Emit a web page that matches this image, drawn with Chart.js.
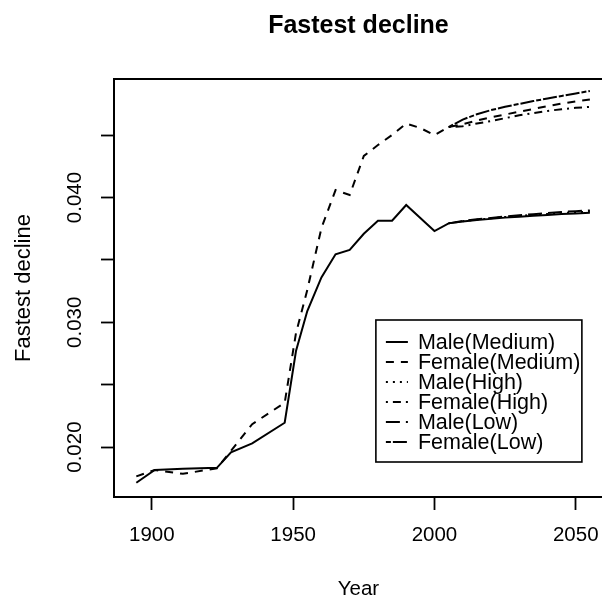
<!DOCTYPE html>
<html>
<head>
<meta charset="utf-8">
<script src="https://cdn.jsdelivr.net/npm/chart.js@4/dist/chart.umd.min.js"></script>
<style>
  html, body { margin: 0; padding: 0; background: #fff; overflow: hidden; }
  #wrap { width: 612px; height: 598px; }
</style>
</head>
<body>
<div id="wrap"><canvas id="c" width="612" height="598"></canvas></div>
<script>
// Observed life-table years and projection years
const histYears = [1894.5, 1901, 1911, 1923, 1928, 1935.5, 1947, 1951, 1955, 1960, 1965, 1970, 1975, 1980, 1985, 1990, 1995, 2000];
const projYears = [2005, 2010, 2015, 2020, 2025, 2030, 2035, 2040, 2045, 2050, 2055];

// Observed values
const maleHist   = [0.01714, 0.01816, 0.01826, 0.01834, 0.01958, 0.02030, 0.02195, 0.02770, 0.03090, 0.03360, 0.03545, 0.03580, 0.03710, 0.03814, 0.03814, 0.03940, 0.03836, 0.03731];
const femaleHist = [0.01765, 0.01816, 0.01786, 0.01830, 0.01970, 0.02184, 0.02355, 0.02914, 0.03260, 0.03755, 0.04060, 0.04020, 0.04333, 0.04421, 0.04501, 0.04593, 0.04557, 0.04501];

// Projected values by variant
const maleMediumProj   = [0.03793, 0.03808, 0.03820, 0.03829, 0.03839, 0.03847, 0.03854, 0.03861, 0.03868, 0.03873, 0.03878];
const maleHighProj     = [0.03793, 0.03810, 0.03823, 0.03833, 0.03844, 0.03853, 0.03861, 0.03868, 0.03876, 0.03882, 0.03888];
const maleLowProj      = [0.03793, 0.03812, 0.03826, 0.03837, 0.03849, 0.03858, 0.03867, 0.03876, 0.03884, 0.03891, 0.03897];
const femaleMediumProj = [0.04565, 0.04588, 0.04617, 0.04643, 0.04665, 0.04688, 0.04710, 0.04733, 0.04753, 0.04771, 0.04786];
const femaleHighProj   = [0.04565, 0.04571, 0.04593, 0.04613, 0.04636, 0.04659, 0.04677, 0.04694, 0.04708, 0.04719, 0.04727];
const femaleLowProj    = [0.04565, 0.04625, 0.04667, 0.04701, 0.04727, 0.04750, 0.04773, 0.04794, 0.04814, 0.04834, 0.04854];

// Axis ticks
const xTickValues = [1900, 1950, 2000, 2050];
const yTickValues = [0.020, 0.025, 0.030, 0.035, 0.040, 0.045];
const yTickLabels = ['0.020', '', '0.030', '', '0.040', ''];

const seriesLabels = ['Male(Medium)', 'Female(Medium)', 'Male(High)', 'Female(High)', 'Male(Low)', 'Female(Low)'];

const FONT = '"Liberation Sans", Arial, Helvetica, sans-serif';

function pairs(xs, ys) { return xs.map((x, i) => ({ x: x, y: ys[i] })); }

const dashStyles = [
  [],              // solid
  [8, 7],          // dashed
  [2, 5],          // dotted
  [2, 5, 8, 5],    // dot-dash
  [14, 6],         // long dash
  [5, 2, 14, 2]    // two-dash
];

const seriesData = [
  pairs(histYears.concat(projYears), maleHist.concat(maleMediumProj)),
  pairs(histYears.concat(projYears), femaleHist.concat(femaleMediumProj)),
  pairs(projYears, maleHighProj),
  pairs(projYears, femaleHighProj),
  pairs(projYears, maleLowProj),
  pairs(projYears, femaleLowProj)
];

const datasets = seriesData.map((d, i) => ({
  label: seriesLabels[i],
  data: d,
  borderColor: '#000',
  borderWidth: 2,
  borderDash: dashStyles[i],
  pointRadius: 0,
  tension: 0,
  fill: false
}));

// Main title, top edge of the frame and legend box
const decorations = {
  id: 'decorations',
  afterDraw(chart) {
    const ctx = chart.ctx;
    const a = chart.chartArea;
    ctx.save();
    // top edge of the frame runs off the right side
    ctx.strokeStyle = '#000';
    ctx.lineWidth = 2;
    ctx.setLineDash([]);
    ctx.beginPath();
    ctx.moveTo(a.left - 1, a.top);
    ctx.lineTo(chart.width, a.top);
    ctx.stroke();
    ctx.beginPath();
    ctx.moveTo(a.right, a.bottom);
    ctx.lineTo(chart.width, a.bottom);
    ctx.stroke();

    // main title
    ctx.fillStyle = '#000';
    ctx.font = 'bold 25px ' + FONT;
    ctx.textAlign = 'center';
    ctx.textBaseline = 'alphabetic';
    ctx.fillText('Fastest decline', (a.left + a.right) / 2, 33);

    // legend
    const boxRight = a.right - 21, boxBottom = a.bottom - 35;
    const boxW = 206, boxH = 142;
    const bx = boxRight - boxW, by = boxBottom - boxH;
    ctx.fillStyle = '#fff';
    ctx.fillRect(bx, by, boxW, boxH);
    ctx.strokeStyle = '#000';
    ctx.lineWidth = 1.6;
    ctx.strokeRect(bx, by, boxW, boxH);
    ctx.font = '21.5px ' + FONT;
    ctx.textAlign = 'left';
    ctx.textBaseline = 'middle';
    chart.data.datasets.forEach((ds, i) => {
      const y = by + 22 + i * 20;
      ctx.beginPath();
      ctx.setLineDash(ds.borderDash);
      ctx.lineWidth = 2;
      ctx.moveTo(bx + 10, y);
      ctx.lineTo(bx + 32, y);
      ctx.stroke();
      ctx.setLineDash([]);
      ctx.fillStyle = '#000';
      ctx.fillText(ds.label, bx + 42, y + 1);
    });
    ctx.restore();
  }
};

new Chart(document.getElementById('c'), {
  type: 'line',
  data: { datasets: datasets },
  options: {
    responsive: false,
    animation: false,
    events: [],
    layout: { padding: { left: 0, top: 79, right: 8, bottom: 0 } },
    plugins: {
      legend: { display: false },
      title: { display: false },
      tooltip: { enabled: false }
    },
    scales: {
      x: {
        type: 'linear',
        min: 1886.6,
        max: 2059.6,
        afterBuildTicks: s => { s.ticks = xTickValues.map(v => ({ value: v })); },
        afterFit: s => { s.height = 101; },
        grid: { display: true, drawOnChartArea: false, drawTicks: true, tickLength: 13, tickWidth: 1.8, tickColor: '#000' },
        border: { display: true, color: '#000', width: 2 },
        ticks: {
          color: '#000', font: { family: FONT, size: 20.5 }, padding: 13,
          autoSkip: false, maxRotation: 0, minRotation: 0,
          callback: v => String(v)
        },
        title: {
          display: true, text: 'Year', color: '#000',
          font: { family: FONT, size: 20.5, lineHeight: 1 },
          padding: { top: 0, bottom: -2 }
        }
      },
      y: {
        type: 'linear',
        min: 0.0160,
        max: 0.0495,
        afterBuildTicks: s => { s.ticks = yTickValues.map(v => ({ value: v })); },
        afterFit: s => { s.width = 114; },
        grid: { display: true, drawOnChartArea: false, drawTicks: true, tickLength: 13, tickWidth: 1.8, tickColor: '#000' },
        border: { display: true, color: '#000', width: 2 },
        ticks: {
          color: '#000', font: { family: FONT, size: 20.5 }, padding: 0,
          autoSkip: false, minRotation: 90, maxRotation: 90, crossAlign: 'center',
          callback: (v, i) => yTickLabels[i]
        },
        title: {
          display: true, text: 'Fastest decline', color: '#000',
          font: { family: FONT, size: 22, lineHeight: 1 },
          padding: { top: 13, bottom: 0 }
        }
      }
    }
  },
  plugins: [decorations]
});
</script>
</body>
</html>
